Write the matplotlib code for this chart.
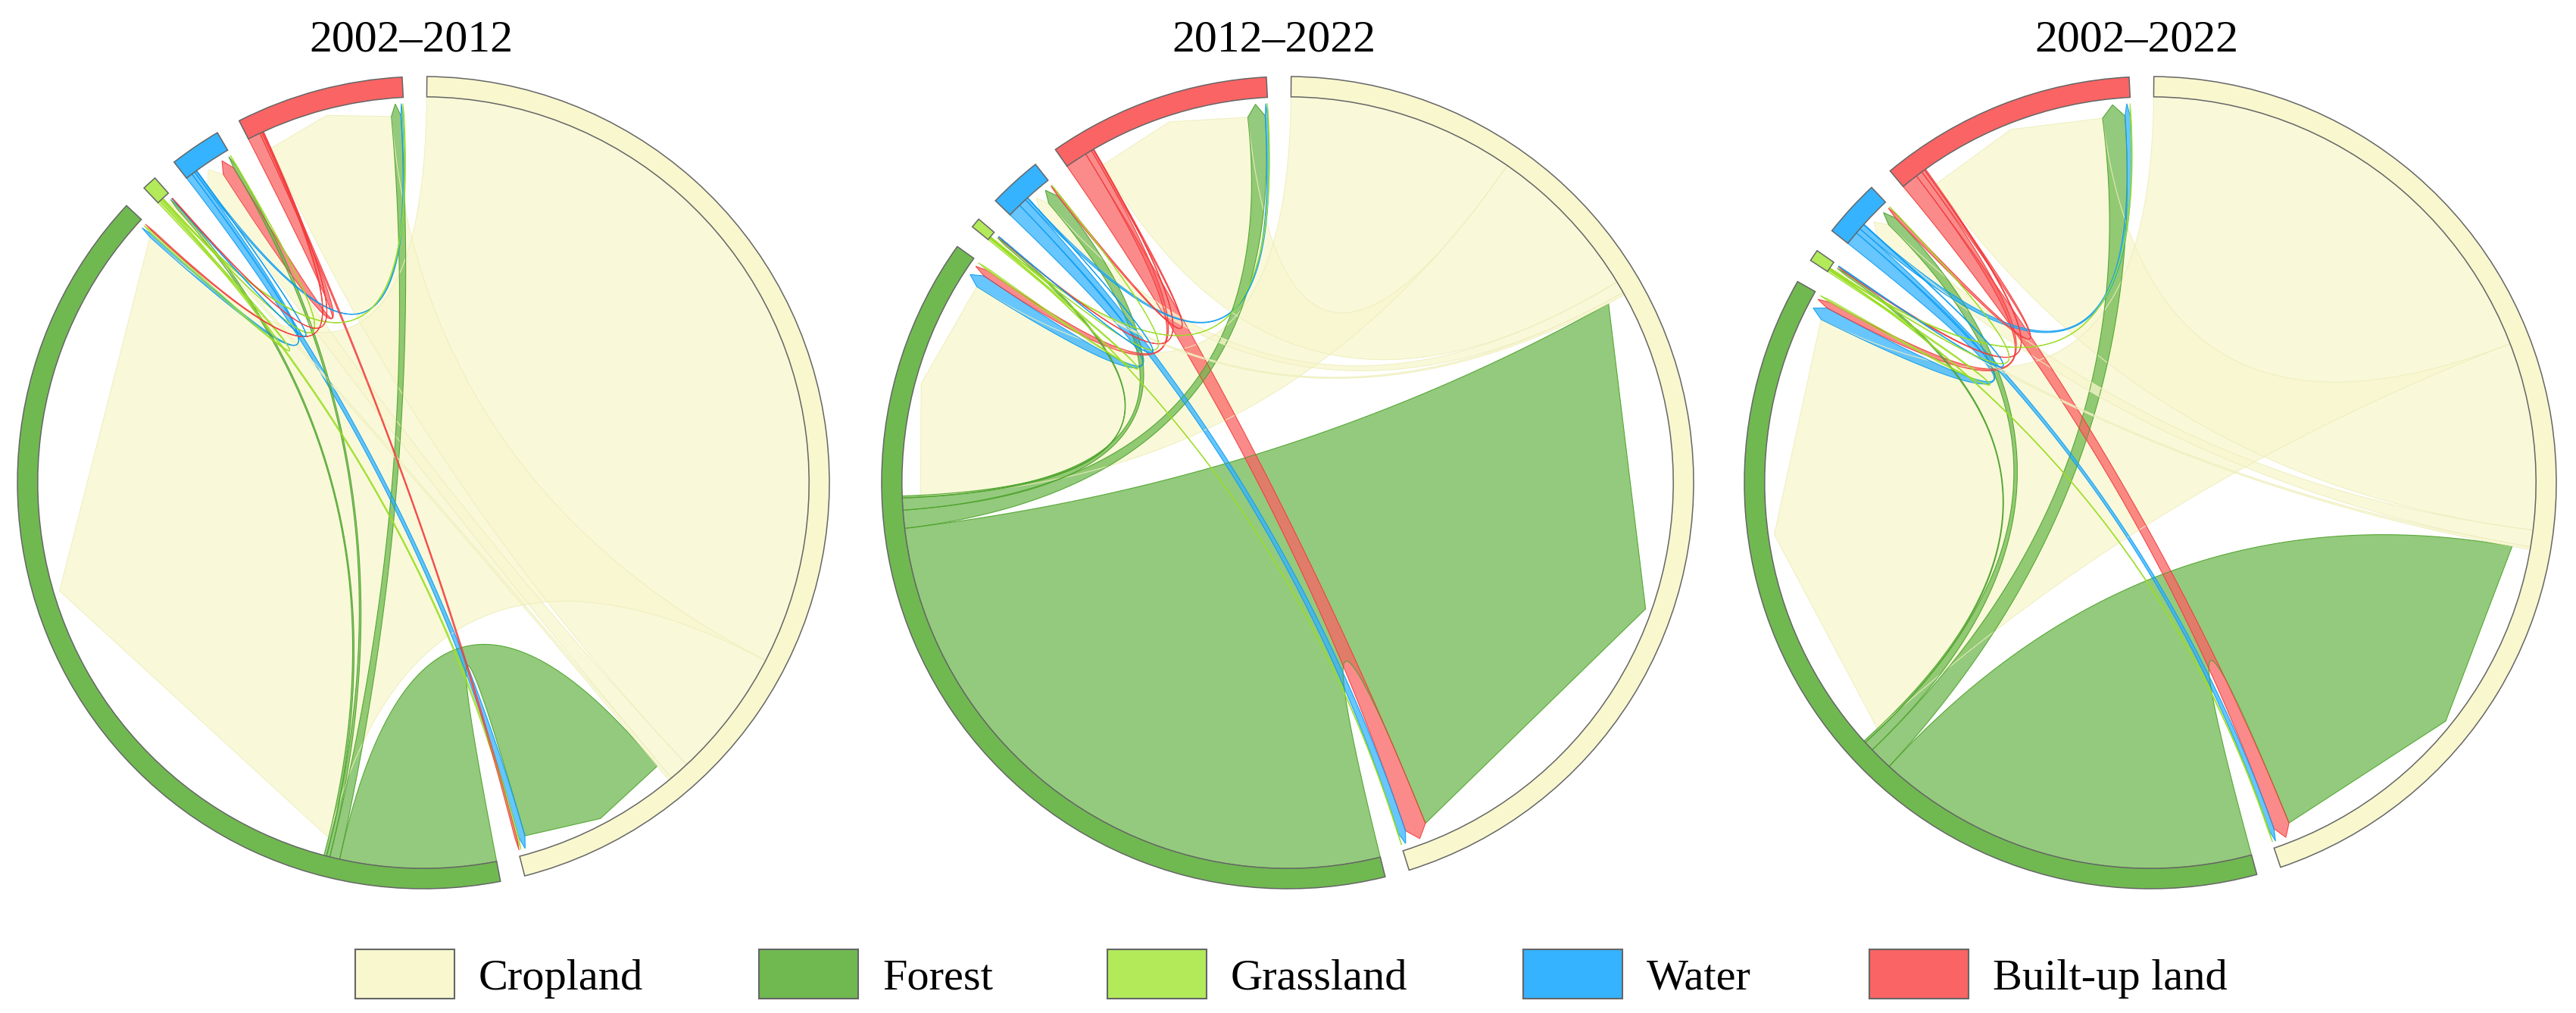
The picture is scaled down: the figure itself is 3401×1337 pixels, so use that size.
#!/usr/bin/env python
"""Land-use transfer chord diagrams (2002-2012, 2012-2022, 2002-2022).

Mimics circlize::chordDiagram(directional=1, diffHeight + big.arrow,
link.sort=TRUE): each sector holds its outgoing roots first, then incoming
ones, both sorted by width; link ends at the target are shorter and pointed.
"""

import numpy as np
import matplotlib
matplotlib.use("Agg")
import matplotlib.pyplot as plt
from matplotlib.patches import Wedge, Polygon, Rectangle

CLASSES = ["Cropland", "Forest", "Grassland", "Water", "Built-up land"]
GRID_COLORS = ["#F8F7CE", "#70B951", "#B2EA5A", "#35B3FE", "#FA6464"]
EDGE_COLORS = ["#EFEEBE", "#4CA22A", "#9ADD22", "#0C9CF0", "#F23A3A"]
PERIODS = ["2002–2012", "2012–2022", "2002–2022"]

FLOW_2002_2012 = [
    [0.0, 117.0, 0.5, 3.0, 19.5],
    [23.5, 0.0, 0.4, 0.5, 1.5],
    [0.3, 0.4, 0.0, 0.1, 0.2],
    [1.0, 0.5, 0.1, 0.0, 0.3],
    [0.3, 0.2, 0.1, 1.9, 0.0],
]
FLOW_2012_2022 = [
    [0.0, 34.0, 0.4, 1.8, 23.8],
    [96.5, 0.0, 0.3, 1.8, 2.7],
    [0.1, 0.3, 0.0, 0.05, 0.1],
    [1.2, 2.0, 0.05, 0.0, 0.4],
    [3.3, 1.0, 0.1, 0.3, 0.0],
]
FLOW_2002_2022 = [
    [0.0, 68.0, 0.4, 2.5, 28.0],
    [57.5, 0.0, 0.3, 1.5, 3.5],
    [0.15, 0.3, 0.0, 0.05, 0.15],
    [0.8, 2.0, 0.1, 0.0, 0.8],
    [2.5, 1.0, 0.2, 0.5, 0.0],
]
FLOWS = [FLOW_2002_2012, FLOW_2012_2022, FLOW_2002_2022]

# layout in output pixels
FIG_W, FIG_H = 3401, 1337
CENTERS_X = [559, 1700, 2839]
CENTER_Y = 637
RADIUS_PX = 536
TITLE_X = [543, 1682, 2821]
LEGEND_BOX_X = [469, 1002, 1462, 2011, 2468]

GAP = 3.5          # degrees between sectors
START = 89.5       # first sector starts here, going clockwise
R_TRACK = 0.05     # ring thickness
R0 = 1.0 - R_TRACK  # source roots
R1 = 0.905         # target roots (diffHeight)
DH = 0.03          # big arrow tip
LINK_ALPHA = 0.75


def _pt(theta, r):
    t = np.radians(theta)
    return np.array([r * np.cos(t), r * np.sin(t)])


def _bezier(p0, p2, n=120):
    # quadratic curve with the control point in the circle centre
    t = np.linspace(0, 1, n)[:, None]
    return (1 - t) ** 2 * p0 + t ** 2 * p2


def layout(mat):
    """Sector start angles, degrees per unit and link root intervals."""
    n = len(mat)
    tot = mat.sum(1) + mat.sum(0)
    scale = (360.0 - n * GAP) / tot.sum()
    starts, a = [], START
    for i in range(n):
        starts.append(a)
        a -= tot[i] * scale + GAP

    src, dst = {}, {}
    for i in range(n):
        pos = starts[i]
        outs = sorted([j for j in range(n) if j != i and mat[i, j] > 0],
                      key=lambda j: -mat[i, j])
        for j in outs:
            w = mat[i, j] * scale
            src[(i, j)] = (pos, pos - w)
            pos -= w
        ins = sorted([j for j in range(n) if j != i and mat[j, i] > 0],
                     key=lambda j: -mat[j, i])
        for j in ins:
            w = mat[j, i] * scale
            dst[(j, i)] = (pos, pos - w)
            pos -= w
    return starts, tot * scale, src, dst


def link_polygon(s, d):
    a1, a2 = s
    b1, b2 = d
    arc = np.array([_pt(th, R0) for th in np.linspace(a1, a2, 60)])
    c1 = _bezier(_pt(a2, R0), _pt(b1, R1))
    tip = _pt((b1 + b2) / 2.0, R1 + DH)
    c2 = _bezier(_pt(b2, R1), _pt(a1, R0))
    return np.vstack([arc, c1, tip[None, :], c2])


def draw_chord(ax, flow):
    mat = np.asarray(flow, dtype=float)
    starts, widths, src, dst = layout(mat)

    for i, (st, w) in enumerate(zip(starts, widths)):
        ax.add_patch(Wedge((0, 0), 1.0, st - w, st, width=R_TRACK,
                           facecolor=GRID_COLORS[i], edgecolor="#666666",
                           linewidth=1.1, zorder=3))

    keys = sorted(src.keys(), key=lambda k: -mat[k])
    for (i, j) in keys:
        verts = link_polygon(src[(i, j)], dst[(i, j)])
        ax.add_patch(Polygon(verts, closed=True, facecolor=GRID_COLORS[i],
                             alpha=LINK_ALPHA, edgecolor="none", zorder=1))
        ax.add_patch(Polygon(verts, closed=True, facecolor="none",
                             edgecolor=EDGE_COLORS[i], linewidth=0.8,
                             alpha=0.9, zorder=2))

    lim = 560.0 / RADIUS_PX
    ax.set_xlim(-lim, lim)
    ax.set_ylim(-lim, lim)
    ax.set_aspect("equal")
    ax.axis("off")


def main():
    plt.rcParams["font.family"] = ["Liberation Serif", "DejaVu Serif"]
    fig = plt.figure(figsize=(FIG_W / 100, FIG_H / 100), dpi=100)

    half = 560
    for cx, flow in zip(CENTERS_X, FLOWS):
        ax = fig.add_axes([(cx - half) / FIG_W,
                           (FIG_H - CENTER_Y - half) / FIG_H,
                           2 * half / FIG_W, 2 * half / FIG_H])
        draw_chord(ax, flow)

    # titles + legend in pixel coordinates
    top = fig.add_axes([0, 0, 1, 1], facecolor="none")
    top.set_xlim(0, FIG_W)
    top.set_ylim(FIG_H, 0)
    top.axis("off")

    for x, title in zip(TITLE_X, PERIODS):
        top.text(x, 67, title, ha="center", va="baseline", fontsize=43)

    for x, name, col in zip(LEGEND_BOX_X, CLASSES, GRID_COLORS):
        top.add_patch(Rectangle((x, 1253), 131, 65, facecolor=col,
                                edgecolor="#666666", linewidth=1.5))
        top.text(x + 163, 1306, name, ha="left", va="baseline", fontsize=42)

    fig.savefig("out.png", dpi=100)
    plt.close(fig)


if __name__ == "__main__":
    main()
